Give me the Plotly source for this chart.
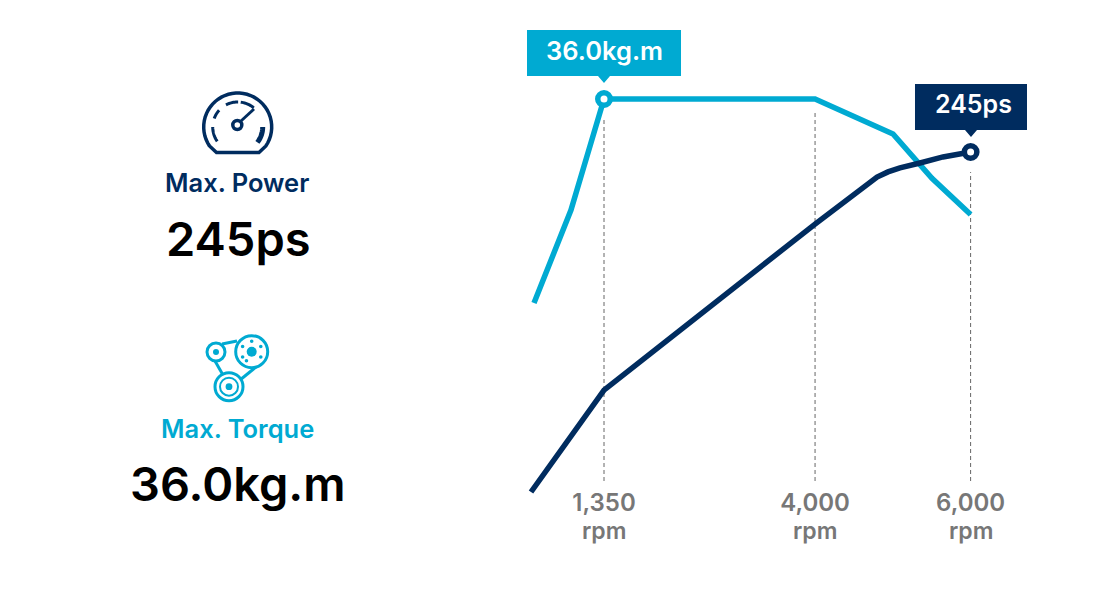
import numpy as np
import plotly.graph_objects as go

# ---- data ----
torque_rpm = [462, 931, 1350, 4027, 5016, 5510, 6000]
torque_kgm = [21.34, 28.02, 36.0, 36.0, 33.49, 30.3, 27.7]
power_rpm = [424, 1350, 4027, 4559, 4813, 4952, 5104, 5358, 5650, 6000]
power_ps = [59.06, 114.8, 205.6, 223.1, 231.3, 234.1, 236.3, 239.0, 242.3, 245.0]
tick_rpm = [1350, 4027, 6000]
tick_labels = ["1,350", "4,000", "6,000"]
tick_unit = "rpm"
peak_torque_rpm, peak_torque = [1350], [36.0]
peak_power_rpm, peak_power = [6000], [245.0]
guide_tops = [36.0 - 1.4, 36.0 - 0.95, 245 - 11.0]

CYAN = "#00AAD2"
NAVY = "#002C5F"
GREY = "#777777"
FONT = "Inter"
W, H = 1120, 600


def px(x):
    return x / W


def py(y):
    return 1 - y / H


def pt(x, y):
    return f"{px(x):.5f} {py(y):.5f}"


def poly(points, close=False):
    return "M " + " L ".join(pt(x, y) for x, y in points) + (" Z" if close else "")


def arc(cx, cy, r, a0, a1, n=40):
    return [(cx + r * np.cos(np.radians(a)), cy - r * np.sin(np.radians(a))) for a in np.linspace(a0, a1, n)]


def circle(cx, cy, r, color, width=0, fill=None):
    return dict(type="circle", xref="paper", yref="paper", layer="above",
                x0=px(cx - r), x1=px(cx + r), y0=py(cy + r), y1=py(cy - r),
                line=dict(color=color, width=width), fillcolor=fill or "rgba(0,0,0,0)")


def path(d, color, width=0, fill=None):
    return dict(type="path", xref="paper", yref="paper", layer="above", path=d,
                line=dict(color=color, width=width), fillcolor=fill or "rgba(0,0,0,0)")


def text(x, y, s, size, color, weight=600):
    return dict(xref="paper", yref="paper", x=px(x), y=py(y), text=s, showarrow=False,
                xanchor="center", yanchor="middle",
                font=dict(family=FONT, size=size, color=color, weight=weight))


# axes: pixel 604 -> 1350 rpm, 970.6 -> 6000 rpm
SLOPE = (970.6 - 604) / (6000 - 1350)
x_range = [1350 - 604 / SLOPE, 1350 + (W - 604) / SLOPE]
AXIS_PX = 520
GUIDE_BOTTOM_PX = 481
y1_range = [36 * (600 - AXIS_PX) / 501, 36 * 600 / 501]
y2_range = [245 * (600 - AXIS_PX) / 448, 245 * 600 / 448]

fig = go.Figure()

shapes = []
# guide lines
for r, top, yr in zip(tick_rpm, guide_tops, ["y", "y", "y2"]):
    rng = y1_range if yr == "y" else y2_range
    bottom = rng[0] + (rng[1] - rng[0]) * (AXIS_PX - GUIDE_BOTTOM_PX) / AXIS_PX
    shapes.append(dict(type="line", xref="x", yref=yr, x0=r, x1=r, y0=bottom, y1=top, layer="below",
                       line=dict(color="#666666", width=1, dash="4px,3px")))

fig.add_trace(go.Scatter(x=torque_rpm, y=torque_kgm, mode="lines", line=dict(color=CYAN, width=5.5),
                         cliponaxis=False, hoverinfo="skip", showlegend=False))
fig.add_trace(go.Scatter(x=power_rpm, y=power_ps, yaxis="y2", mode="lines",
                         line=dict(color=NAVY, width=5.5), cliponaxis=False, hoverinfo="skip", showlegend=False))
fig.add_trace(go.Scatter(x=peak_torque_rpm, y=peak_torque, mode="markers",
                         marker=dict(size=12.5, color="white", line=dict(color=CYAN, width=5.5)),
                         cliponaxis=False, hoverinfo="skip", showlegend=False))
fig.add_trace(go.Scatter(x=peak_power_rpm, y=peak_power, yaxis="y2", mode="markers",
                         marker=dict(size=12.5, color="white", line=dict(color=NAVY, width=5.5)),
                         cliponaxis=False, hoverinfo="skip", showlegend=False))

# callouts
shapes.append(path(poly([(527, 30), (681, 30), (681, 76), (610, 76), (604, 83), (598, 76), (527, 76)], True), CYAN, 0, CYAN))
shapes.append(path(poly([(915, 84), (1027, 84), (1027, 130), (977, 130), (971, 137), (965, 130), (915, 130)], True), NAVY, 0, NAVY))

# gauge icon
gx, gy = 237.7, 127
shapes.append(path(poly(arc(gx, gy, 34, 214, -34) + [(259, 152.5), (216.5, 152.5)], True), NAVY, 3.5))
for a0, a1, w in [(180, 215, 3), (138, 160, 3), (89, 118, 3), (50, 83, 3), (-38, 0, 5)]:
    shapes.append(path(poly(arc(gx, gy, 25, a0, a1, 12)), NAVY, w))
shapes.append(circle(237.3, 125, 4.5, NAVY, 3.5, "white"))
shapes.append(path(poly([(241, 121), (254, 109)]), NAVY, 3))

# pulley icon
shapes.append(path(poly([(222, 344), (237, 341)]), CYAN, 3))
shapes.append(path(poly([(215, 361), (223, 375)]), CYAN, 3))
shapes.append(path(poly([(256, 367), (240, 380)]), CYAN, 3))
shapes.append(circle(216, 352, 9, CYAN, 3, "white"))
shapes.append(circle(216, 352, 3, CYAN, 0, CYAN))
shapes.append(circle(251.7, 351.7, 16, CYAN, 3, "white"))
shapes.append(circle(251.7, 351.7, 5, CYAN, 0, CYAN))
for a in [90, 30, -30, -120, 150, 210]:
    shapes.append(circle(251.7 + 10.5 * np.cos(np.radians(a)), 351.7 - 10.5 * np.sin(np.radians(a)), 1.8, CYAN, 0, CYAN))
shapes.append(circle(229, 386.7, 14, CYAN, 3, "white"))
shapes.append(circle(229, 386.7, 9, CYAN, 2, "white"))
shapes.append(circle(229, 386.7, 3.4, CYAN, 0, CYAN))

annotations = [
    text(604, 51, "36.0kg.m", 25.5, "white"),
    text(973, 104, "245ps", 25, "white"),
    text(237, 182.5, "Max. Power", 25.5, NAVY),
    text(238, 238, "245ps", 47, "#000000", 600),
    text(237, 428.5, "Max. Torque", 25.5, CYAN),
    text(238, 483.5, "36.0kg.m", 47, "#000000", 600),
]
for r, _ in zip(tick_rpm, tick_labels):
    annotations.append(dict(xref="x", yref="paper", x=r, y=py(531), text=tick_unit, showarrow=False,
                            xanchor="center", yanchor="middle",
                            font=dict(family=FONT, size=23, color=GREY, weight=600)))

fig.update_layout(
    width=W, height=H, margin=dict(l=0, r=0, t=0, b=0),
    paper_bgcolor="white", plot_bgcolor="white", showlegend=False,
    shapes=shapes, annotations=annotations,
    xaxis=dict(range=x_range, domain=[0, 1], tickmode="array", tickvals=tick_rpm, ticktext=tick_labels,
               showgrid=False, zeroline=False, showline=False, ticks="", ticklabelstandoff=AXIS_PX - 486,
               tickfont=dict(family=FONT, size=24, color=GREY, weight=600)),
    yaxis=dict(range=y1_range, domain=[1 - AXIS_PX / H, 1], visible=False, showgrid=False),
    yaxis2=dict(range=y2_range, domain=[1 - AXIS_PX / H, 1], overlaying="y", visible=False, showgrid=False),
)
fig.update_xaxes(ticklabelstandoff=486 - AXIS_PX)
fig.write_html("out.html", config={"displayModeBar": False},
               post_script="document.body.style.margin='0';")
